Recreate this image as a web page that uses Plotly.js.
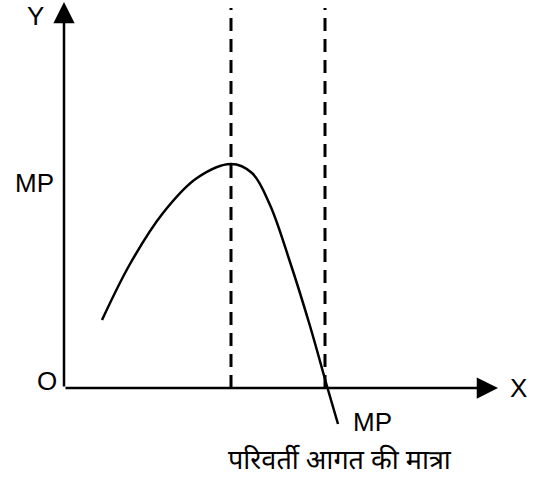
<!DOCTYPE html>
<html>
<head>
<meta charset="utf-8">
<script src="https://cdn.plot.ly/plotly-3.0.1.min.js"></script>
<style>html,body{margin:0;padding:0;background:#fff;}#chart{width:537px;height:481px;}</style>
</head>
<body>
<div id="chart"></div>
<script>
// Marginal product curve (input quantity vs MP)
const mpX = [0.95, 1.65, 2.475, 3.325, 4.175, 4.7, 5.15, 5.65, 6.15, 6.5875, 6.85];
const mpY = [1.70, 3.10, 4.375, 5.25, 5.6, 5.375, 4.575, 3.15, 1.55, 0, -0.9];
// Stage boundaries (MP maximum, MP zero)
const stageX = [4.175, 6.525];
const stageTop = 9.5;
// Axis extents
const axisXEnd = 10.85;
const axisYEnd = 9.65;
// Labels
const labels = {y: 'Y', x: 'X', o: 'O', mpAxis: 'MP', mpCurve: 'MP', xTitle: 'परिवर्ती आगत की मात्रा'};

const font = {family: 'Liberation Sans, Arial, sans-serif', size: 26, color: '#000'};

const traces = [
  {x: mpX, y: mpY, mode: 'lines', line: {color: '#000', width: 2.5, shape: 'spline', smoothing: 1}, hoverinfo: 'skip', showlegend: false}
];
stageX.forEach(function (sx) {
  traces.push({x: [sx, sx], y: [0, stageTop], mode: 'lines', line: {color: '#000', width: 3, dash: '13px,8px'}, hoverinfo: 'skip', showlegend: false});
});

const layout = {
  width: 537, height: 481,
  margin: {l: 0, r: 0, t: 0, b: 0},
  paper_bgcolor: '#fff', plot_bgcolor: '#fff',
  xaxis: {range: [-1.6, 11.825], visible: false, fixedrange: true},
  yaxis: {range: [-2.325, 9.7], visible: false, fixedrange: true},
  showlegend: false,
  annotations: [
    {x: axisXEnd, y: 0, ax: 0, ay: 0, axref: 'x', ayref: 'y', xref: 'x', yref: 'y', text: '', showarrow: true, arrowhead: 2, arrowsize: 1.7, arrowwidth: 2.5, arrowcolor: '#000', standoff: 0},
    {x: 0, y: axisYEnd, ax: 0, ay: 0, axref: 'x', ayref: 'y', xref: 'x', yref: 'y', text: '', showarrow: true, arrowhead: 2, arrowsize: 1.7, arrowwidth: 2.5, arrowcolor: '#000', standoff: 0},
    {x: -0.725, y: 9.3, xref: 'x', yref: 'y', text: labels.y, showarrow: false, font: font},
    {x: 11.35, y: 0, xref: 'x', yref: 'y', text: labels.x, showarrow: false, font: font},
    {x: -0.425, y: 0.175, xref: 'x', yref: 'y', text: labels.o, showarrow: false, font: font},
    {x: -0.75, y: 5.125, xref: 'x', yref: 'y', text: labels.mpAxis, showarrow: false, font: font},
    {x: 7.7, y: -0.85, xref: 'x', yref: 'y', text: labels.mpCurve, showarrow: false, font: font},
    {x: 6.9, y: -1.85, xref: 'x', yref: 'y', text: labels.xTitle, showarrow: false, font: {family: 'Noto Sans Devanagari, Noto Sans, sans-serif', size: 27, color: '#000'}}
  ]
};

Plotly.newPlot('chart', traces, layout, {staticPlot: true, displayModeBar: false});
</script>
</body>
</html>
